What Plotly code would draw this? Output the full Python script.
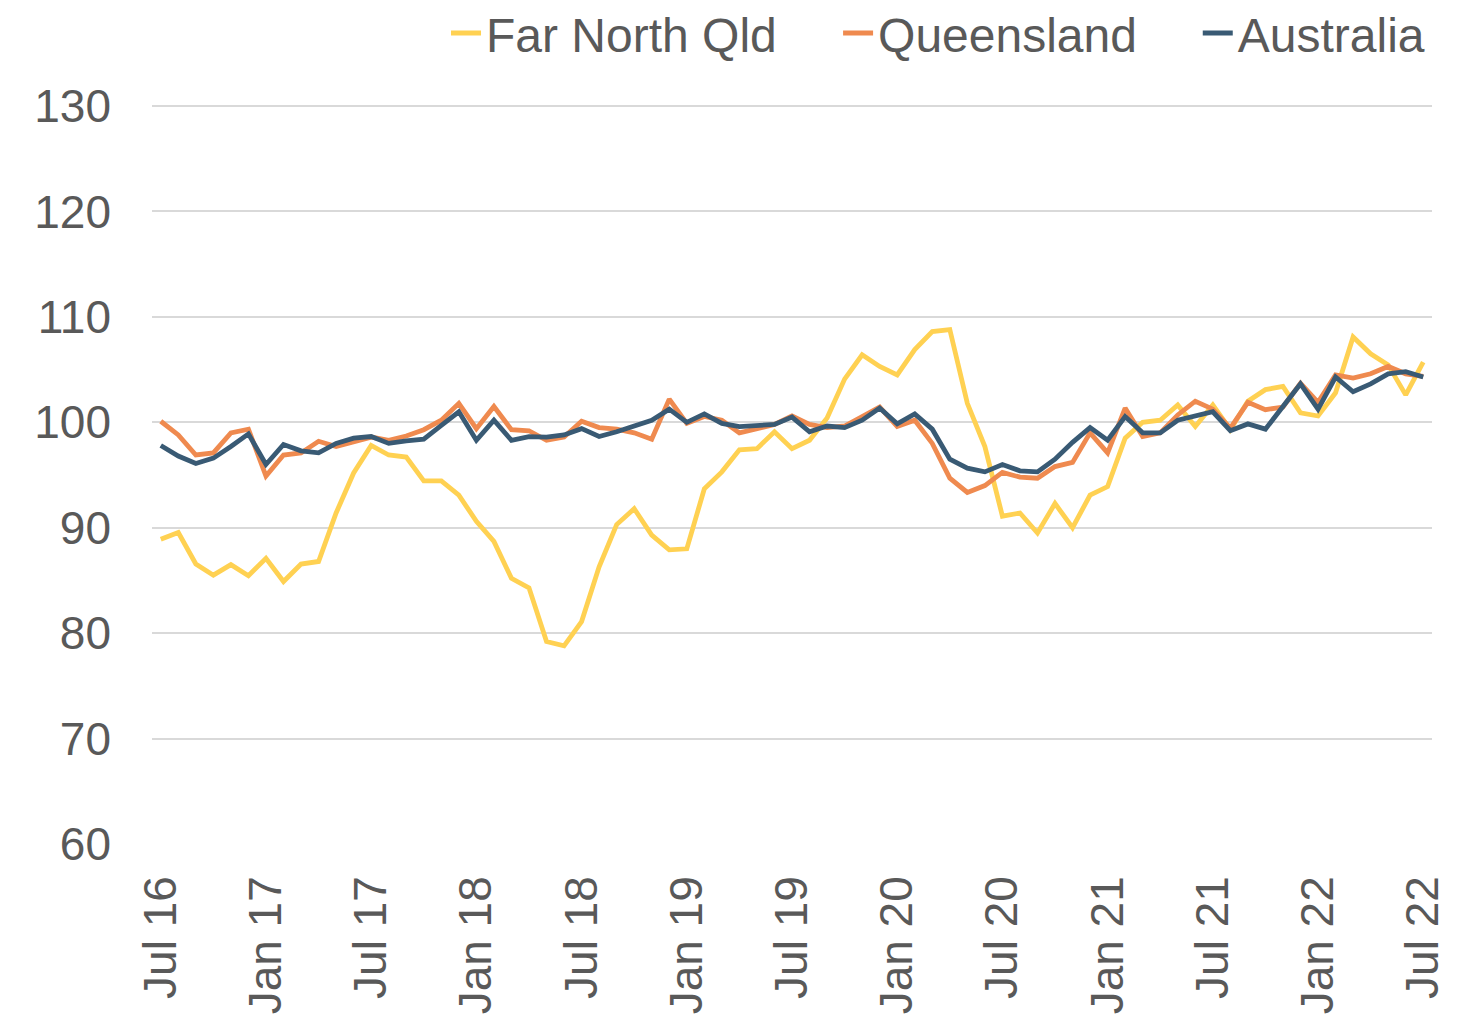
import plotly.graph_objects as go
import pandas as pd

months = [d.strftime("%b %y") for d in pd.date_range("2016-07-01", "2022-07-01", freq="MS")]

far_north_qld = [
    88.9, 89.55, 86.56, 85.5, 86.5, 85.45, 87.1, 84.9, 86.56, 86.8,
    91.4, 95.2, 97.8, 96.9, 96.7, 94.45, 94.45, 93.1, 90.6, 88.7,
    85.2, 84.3, 79.2, 78.8, 81.1, 86.3, 90.3, 91.8, 89.3, 87.9,
    88.0, 93.7, 95.3, 97.4, 97.5, 99.1, 97.5, 98.3, 100.4, 104.1,
    106.4, 105.3, 104.5, 106.9, 108.6, 108.8, 101.8, 97.7, 91.1, 91.4,
    89.5, 92.3, 90.0, 93.1, 93.9, 98.5, 100.0, 100.2, 101.65, 99.6,
    101.65, 99.3, 102.0, 103.1, 103.4, 100.9, 100.6, 102.8, 108.1, 106.5,
    105.45, 102.6, 105.7,
]

queensland = [
    100.1, 98.8, 96.9, 97.1, 99.0, 99.35, 94.9, 96.9, 97.1, 98.2,
    97.7, 98.2, 98.6, 98.3, 98.7, 99.3, 100.2, 101.8, 99.4, 101.5,
    99.3, 99.2, 98.3, 98.6, 100.1, 99.5, 99.35, 99.0, 98.4, 102.2,
    99.9, 100.55, 100.2, 99.0, 99.35, 99.8, 100.6, 99.8, 99.5, 99.65,
    100.55, 101.45, 99.6, 100.2, 98.0, 94.7, 93.35, 94.0, 95.25, 94.8,
    94.7, 95.8, 96.2, 99.0, 97.1, 101.35, 98.65, 99.0, 100.7, 102.0,
    101.25, 99.45, 101.9, 101.2, 101.45, 103.7, 101.9, 104.5, 104.2, 104.6,
    105.3, 104.6, 104.35,
]

australia = [
    97.8, 96.8, 96.1, 96.6, 97.7, 98.9, 96.0, 97.9, 97.3, 97.1,
    98.0, 98.5, 98.65, 98.0, 98.25, 98.4, 99.7, 101.0, 98.3, 100.2,
    98.3, 98.65, 98.6, 98.8, 99.4, 98.65, 99.1, 99.6, 100.2, 101.25,
    100.0, 100.8, 99.9, 99.6, 99.7, 99.8, 100.5, 99.1, 99.65, 99.5,
    100.2, 101.35, 99.85, 100.8, 99.35, 96.5, 95.65, 95.3, 96.0, 95.4,
    95.3, 96.5, 98.1, 99.5, 98.3, 100.55, 99.0, 99.0, 100.2, 100.6,
    101.0, 99.2, 99.85, 99.35, 101.55, 103.65, 101.25, 104.3, 102.9, 103.65,
    104.6, 104.8, 104.3,
]

tick_labels = ["Jul 16", "Jan 17", "Jul 17", "Jan 18", "Jul 18", "Jan 19", "Jul 19",
               "Jan 20", "Jul 20", "Jan 21", "Jul 21", "Jan 22", "Jul 22"]
y_ticks = [60, 70, 80, 90, 100, 110, 120, 130]

series = [
    ("Far North Qld", far_north_qld, "#FFD152", "legend", 0.2297),
    ("Queensland", queensland, "#EF8A4F", "legend2", 0.536),
    ("Australia", australia, "#395A74", "legend3", 0.817),
]

FONT = "Liberation Sans, Arial, sans-serif"
TXT = "#595959"

fig = go.Figure()
legends = {}
for name, vals, col, lg, lx in series:
    fig.add_trace(go.Scatter(x=months, y=vals, name=name, mode="lines", legend=lg,
                             line=dict(color=col, width=4.8)))
    legends[lg] = dict(orientation="h", x=lx, xanchor="left", y=1.097, yanchor="middle",
                       font=dict(size=48, color=TXT, family=FONT),
                       bgcolor="rgba(0,0,0,0)", borderwidth=0)

fig.update_layout(
    width=1476, height=1017,
    margin=dict(l=144, r=52, t=97, b=181, autoexpand=False),
    paper_bgcolor="white", plot_bgcolor="white",
    font=dict(family=FONT, size=46, color=TXT),
    showlegend=True,
    **legends,
)
fig.update_xaxes(
    type="category", categoryorder="array", categoryarray=months,
    range=[-0.5, len(months) - 0.5], automargin=False,
    tickmode="array", tickvals=tick_labels, ticktext=tick_labels,
    tickangle=-90, showgrid=False, showline=False, zeroline=False,
    ticks="", ticklabelstandoff=22,
    tickfont=dict(size=46, color=TXT, family=FONT),
)
fig.update_yaxes(
    range=[60, 130.1], tickmode="array", tickvals=y_ticks, automargin=False,
    showgrid=True, gridcolor="#D9D9D9", gridwidth=1.8,
    showline=False, zeroline=False, ticks="", ticklabelstandoff=40,
    tickfont=dict(size=46, color=TXT, family=FONT),
)

fig.write_html("out.html")
